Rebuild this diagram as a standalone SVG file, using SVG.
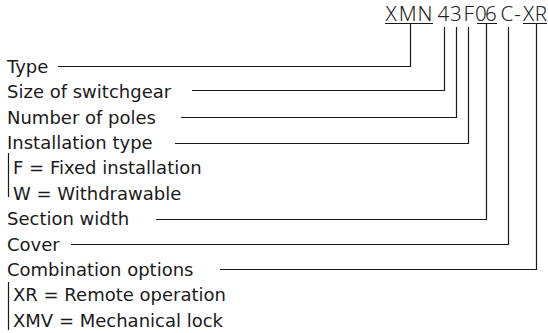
<svg xmlns="http://www.w3.org/2000/svg" width="548" height="333" viewBox="0 0 548 333">
<style>
text{font-family:"DejaVu Sans",sans-serif;font-size:18px;fill:#1a1a1a}
.hd{font-family:"Noto Sans","Open Sans",sans-serif;font-size:20.5px;font-weight:300;fill:#222}
.ln{fill:none;stroke:#1a1a1a;stroke-width:1.2}
</style>
<rect width="548" height="333" fill="#fff"/>
<g id="code">
<text class="hd" x="385.5 398.7 417.6 437.6 450.1 463.5 475.1 485.1 500.5 514.2 523 534.7" y="21">XMN43F06C-XR</text>
<path class="ln" d="M385 23.5H433M477 23.5H497M523 23.5H547"/>
</g>
<g id="type"><text x="7" y="72.7">Type</text></g>
<g id="size"><text x="7" y="98.1">Size of switchgear</text></g>
<g id="poles"><text x="7" y="123.5">Number of poles</text></g>
<g id="install"><text x="7" y="148.9">Installation type</text>
<text x="13" y="174.3">F = Fixed installation</text>
<text x="13" y="199.7">W = Withdrawable</text>
<path class="ln" d="M8.5 153V197"/></g>
<g id="section"><text x="7" y="225.1">Section width</text></g>
<g id="cover"><text x="7" y="250.5">Cover</text></g>
<g id="combo"><text x="7" y="275.9">Combination options</text>
<text x="13" y="301.3">XR = Remote operation</text>
<text x="13" y="326.7">XMV = Mechanical lock</text>
<path class="ln" d="M8.5 282V330"/></g>
<g id="connectors">
<path class="ln" d="M58 66.5H410.5V23.5"/>
<path class="ln" d="M192 90.5H444.5V27"/>
<path class="ln" d="M181 117.5H456.5V27"/>
<path class="ln" d="M175 143.5H468.5V27"/>
<path class="ln" d="M156 219.5H486.5V23.5"/>
<path class="ln" d="M71 244.5H508.5V27"/>
<path class="ln" d="M220 269.5H536.5V23.5"/>
</g>
</svg>
